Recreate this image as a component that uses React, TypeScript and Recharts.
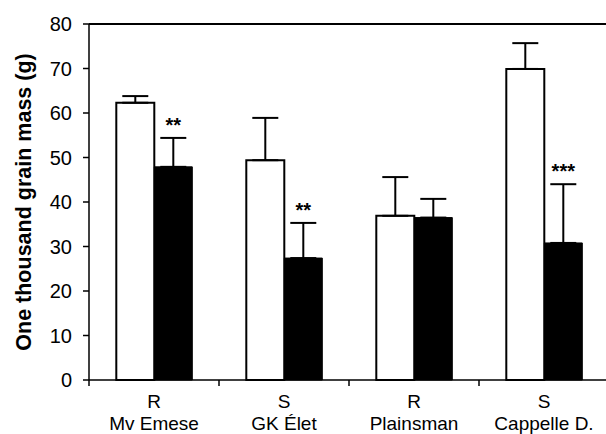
import { BarChart, Bar, XAxis, YAxis, ErrorBar, ReferenceLine, LabelList } from 'recharts';

const cultivars = ['Mv Emese', 'GK Élet', 'Plainsman', 'Cappelle D.'];
const types = ['R', 'S', 'R', 'S'];
const control = [62.3, 49.4, 36.9, 69.9];
const controlErr = [1.5, 9.5, 8.7, 5.8];
const treated = [47.9, 27.4, 36.5, 30.8];
const treatedErr = [6.5, 7.9, 4.2, 13.2];
const stars = ['**', '**', '', '***'];
const yTicks = [0, 10, 20, 30, 40, 50, 60, 70, 80];

const data = cultivars.map((name, i) => ({
    name,
    type: types[i],
    control: control[i],
    controlErr: controlErr[i],
    treated: treated[i],
    treatedErr: treatedErr[i],
    star: stars[i],
}));

const FONT = '"Liberation Sans", Arial, sans-serif';

function CultivarTick(props: any) {
    const { x, y, payload, index } = props;
    const left = x - (payload.offset ?? 0);
    return (
        <g>
            <line x1={left} x2={left} y1={y - 8} y2={y - 2} stroke="#000" strokeWidth={1.5} />
            <text x={x} y={y + 19.5} textAnchor="middle" fontSize={19} fontFamily={FONT} fill="#000">
                {types[index]}
            </text>
            <text x={x} y={y + 41.5} textAnchor="middle" fontSize={19} fontFamily={FONT} fill="#000">
                {payload.value}
            </text>
        </g>
    );
}

function StarLabel(props: any) {
    const { x, y, width, height, index, value } = props;
    if (!value) return null;
    const perUnit = height / treated[index];
    const top = y - treatedErr[index] * perUnit;
    return (
        <text x={x + width / 2} y={top - 6} textAnchor="middle" fontSize={20} fontWeight="bold" fontFamily={FONT} fill="#000">
            {value}
        </text>
    );
}

export default function App() {
    return (
        <div style={{ position: 'absolute', left: 0, top: 0, width: 606, height: 434, overflow: 'hidden', background: '#fff' }}>
            <BarChart
                width={612}
                height={434}
                data={data}
                margin={{ top: 24, right: 3, bottom: 0, left: 0 }}
                barCategoryGap="21%"
                barGap={0}
            >
                <XAxis
                    dataKey="name"
                    height={54}
                    tickLine={false}
                    axisLine={{ stroke: '#000', strokeWidth: 1.5 }}
                    tick={<CultivarTick />}
                    interval={0}
                />
                <YAxis
                    width={89}
                    domain={[0, 80]}
                    ticks={yTicks}
                    interval={0}
                    tickMargin={11}
                    axisLine={{ stroke: '#000', strokeWidth: 1.5 }}
                    tickLine={{ stroke: '#000', strokeWidth: 1.5 }}
                    tick={{ fontSize: 20, fill: '#000', fontFamily: FONT }}
                    label={{
                        value: 'One thousand grain mass (g)',
                        angle: -90,
                        position: 'insideLeft',
                        offset: 23,
                        style: { textAnchor: 'middle', fontSize: 21.5, fontWeight: 'bold', fill: '#000', fontFamily: FONT },
                    }}
                />
                <ReferenceLine y={80} stroke="#000" strokeWidth={2} />
                <Bar dataKey="control" fill="#fff" stroke="#000" strokeWidth={2} isAnimationActive={false}>
                    <ErrorBar dataKey={(d: any) => [0, d.controlErr]} width={13} stroke="#000" strokeWidth={2} direction="y" />
                </Bar>
                <Bar dataKey="treated" fill="#000" stroke="#000" strokeWidth={1} isAnimationActive={false}>
                    <ErrorBar dataKey={(d: any) => [0, d.treatedErr]} width={13} stroke="#000" strokeWidth={2} direction="y" />
                    <LabelList dataKey="star" content={<StarLabel />} />
                </Bar>
            </BarChart>
        </div>
    );
}
